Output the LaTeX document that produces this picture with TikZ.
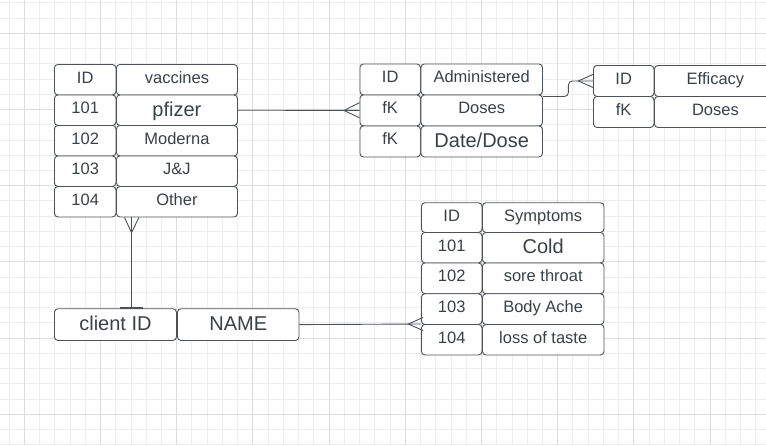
\documentclass[tikz,border=0pt]{standalone}
\usepackage{fontspec}
\setmainfont{Liberation Sans}
\usetikzlibrary{calc}
\definecolor{ink}{HTML}{3B4047}
\definecolor{edge}{HTML}{4D5259}
\definecolor{gridminor}{HTML}{EDEDED}
\definecolor{gridmajor}{HTML}{DCDCDC}
\tikzset{
  cellbox/.style={draw=edge, line width=0.9pt, fill=white, rounded corners=3.5pt,
    inner sep=0pt, anchor=north west, text=ink,
    font=\fontsize{16.5}{18}\selectfont, text height=10pt, text depth=3pt},
  bigtext/.style={font=\fontsize{20}{22}\selectfont, text height=14pt, text depth=2pt},
  link/.style={draw=edge, line width=0.9pt},
  minorline/.style={draw=gridminor, line width=0.9pt},
  majorline/.style={draw=gridmajor, line width=0.9pt},
}
\newcommand\mkcell[7][]{%
  \node[cellbox,#1, minimum width={#5-#3}, minimum height={#6-#4}] (#2) at (#3,#4) {#7};}
\begin{document}
\begin{tikzpicture}[x=1pt,y=-1pt]
\useasboundingbox[fill=white] (0,0) rectangle (766,445);
% grid
\foreach \i in {-1,...,49} {
  \draw[minorline] ({24.3+\i*15.24},0) -- ({24.3+\i*15.24},445);
}
\foreach \j in {-2,...,27} {
  \draw[minorline] (0,{33.3+\j*15.24}) -- (766,{33.3+\j*15.24});
}
\foreach \i in {0,...,9} {
  \draw[majorline] ({24.3+\i*76.2},0) -- ({24.3+\i*76.2},445);
}
\foreach \j in {0,...,5} {
  \draw[majorline] (0,{33.3+\j*76.2}) -- (766,{33.3+\j*76.2});
}
% vaccines table
\mkcell{vid}{54}{64}{115.5}{94.5}{ID}
\mkcell{vname}{116}{64}{237}{94.5}{vaccines}
\mkcell{v1a}{54}{94.5}{115.5}{125}{101}
\mkcell[bigtext]{v1b}{116}{94.5}{237}{125}{pfizer}
\mkcell{v2a}{54}{125}{115.5}{155.5}{102}
\mkcell{v2b}{116}{125}{237}{155.5}{Moderna}
\mkcell{v3a}{54}{155.5}{115.5}{186}{103}
\mkcell{v3b}{116}{155.5}{237}{186}{J\&J}
\mkcell{v4a}{54}{186}{115.5}{216.5}{104}
\mkcell{v4b}{116}{186}{237}{216.5}{Other}
% administered table
\mkcell{aid}{359.5}{63.5}{420}{94.5}{ID}
\mkcell{aname}{420.5}{63.5}{542}{94.5}{Administered}
\mkcell{a1a}{359.5}{94.5}{420}{125.5}{fK}
\mkcell{a1b}{420.5}{94.5}{542}{125.5}{Doses}
\mkcell{a2a}{359.5}{125.5}{420}{156.5}{fK}
\mkcell[bigtext]{a2b}{420.5}{125.5}{542}{156.5}{Date/Dose}
% efficacy table
\mkcell{eid}{593}{65}{653.5}{96}{ID}
\mkcell{ename}{654}{65}{776}{96}{Efficacy}
\mkcell{e1a}{593}{96}{653.5}{127}{fK}
\mkcell{e1b}{654}{96}{776}{127}{Doses}
% symptoms table
\mkcell{sid}{421}{202.3}{481.5}{232}{ID}
\mkcell{sname}{482}{202.3}{603.5}{232}{Symptoms}
\mkcell{s1a}{421}{232}{481.5}{262.5}{101}
\mkcell[bigtext]{s1b}{482}{232}{603.5}{262.5}{Cold}
\mkcell{s2a}{421}{262.5}{481.5}{293.3}{102}
\mkcell{s2b}{482}{262.5}{603.5}{293.3}{sore throat}
\mkcell{s3a}{421}{293.3}{481.5}{324}{103}
\mkcell{s3b}{482}{293.3}{603.5}{324}{Body Ache}
\mkcell{s4a}{421}{324}{481.5}{354.5}{104}
\mkcell{s4b}{482}{324}{603.5}{354.5}{loss of taste}
% client table
\mkcell[bigtext]{cid}{54}{308.3}{176}{340}{client ID}
\mkcell[bigtext]{cname}{177}{308.3}{298.5}{340}{NAME}
% connector: vaccines -> administered
\draw[link] (v1b.east) -- (a1a.west);
\draw[link] ($(a1a.west)+(0,-7.8)$) -- ($(a1a.west)+(-15.5,0)$) -- ($(a1a.west)+(0,7.3)$);
% connector: administered -> efficacy
\coordinate (adout) at ($(a1b.north east)+(0,2)$);
\draw[link, rounded corners=4pt] (adout) -- ++(25.5,0) |- (eid.west);
\draw[link] ($(eid.west)+(0,-6.5)$) -- ($(eid.west)+(-14.7,0)$) -- ($(eid.west)+(0,6.5)$);
% connector: vaccines -> client
\coordinate (vfoot) at ($(v4b.south west)+(15.5,0)$);
\coordinate (cbar) at ($(cid.north west)+(77.5,0)$);
\draw[link] (vfoot) -- (cbar);
\draw[link] ($(vfoot)+(-7,0)$) -- ($(vfoot)+(0,15.2)$) -- ($(vfoot)+(7.5,0)$);
\draw[link, line width=1.8pt] ($(cbar)+(-11.3,0)$) -- ($(cbar)+(11.3,0)$);
% connector: client -> symptoms
\draw[link] (cname.east) -- (s4a.north west);
\draw[link] ($(s4a.north west)+(2.3,-6.6)$) -- ($(s4a.north west)+(-12.7,0)$) -- ($(s4a.north west)+(2.3,6.6)$);
\end{tikzpicture}
\end{document}
